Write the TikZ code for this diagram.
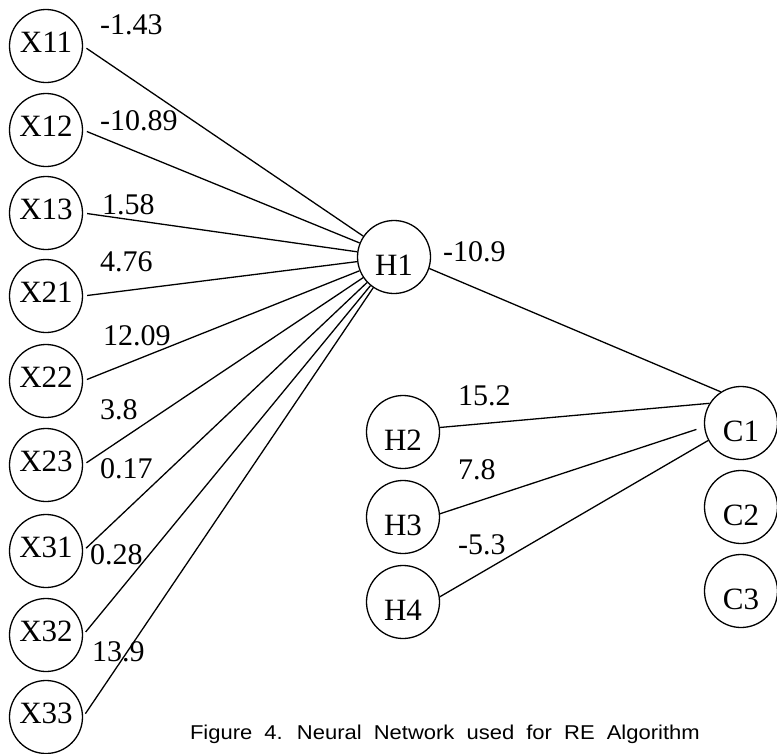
\documentclass[tikz,border=0pt]{standalone}
\usepackage{fontspec}
\setmainfont{Liberation Serif}
\newfontfamily\capfont{Liberation Sans}
\begin{document}
\begin{tikzpicture}[x=1pt,y=-1pt,
  unit/.style={circle,draw,line width=1.3pt,minimum size=73pt,inner sep=0pt,
    font=\fontsize{31}{31}\selectfont},
  xin/.style={unit,text height=12pt,text depth=0pt},
  hid/.style={unit,text height=37pt,text depth=0pt},
  wlab/.style={anchor=west,inner sep=0pt,font=\fontsize{30}{30}\selectfont},
  wire/.style={line width=1.3pt}]
\useasboundingbox (0,0) rectangle (777,753);

% input units
\node[xin] (X11) at (46,46)  {X11};
\node[xin] (X12) at (46,130) {X12};
\node[xin] (X13) at (46,213) {X13};
\node[xin] (X21) at (46,296) {X21};
\node[xin] (X22) at (46,381) {X22};
\node[xin] (X23) at (46,465) {X23};
\node[xin] (X31) at (46,551) {X31};
\node[xin] (X32) at (46,635) {X32};
\node[xin] (X33) at (46,717) {X33};

% hidden units
\node[hid] (H1) at (394,257) {H1};
\node[hid] (H2) at (403,432) {H2};
\node[hid] (H3) at (403,517) {H3};
\node[hid] (H4) at (403,602) {H4};

% output units
\node[hid] (C1) at (741,423) {C1};
\node[hid] (C2) at (741,507) {C2};
\node[hid] (C3) at (741,591) {C3};

% input-to-H1 weights
\foreach \n in {X11,X12,X13,X21,X22,X23,X31,X32,X33}
  \draw[wire,shorten <=4pt] (\n.east) -- (H1);

% hidden-to-C1 weights
\draw[wire] (H1.-18) -- (C1.123);
\draw[wire] (H2.7) -- (C1.148);
\draw[wire,shorten >=8pt] (H3.5) -- (C1.186);
\draw[wire] (H4.8) -- (C1.208);

% weight values
\node[wlab] (w11) at (100,25)  {-1.43};
\node[wlab] (w12) at (100,121) {-10.89};
\node[wlab] (w13) at (102,205) {1.58};
\node[wlab] (w21) at (100,262) {4.76};
\node[wlab] (w22) at (103,336) {12.09};
\node[wlab] (w23) at (100,410) {3.8};
\node[wlab] (w31) at (100,469) {0.17};
\node[wlab] (w32) at (90,555)  {0.28};
\node[wlab] (w33) at (92,652)  {13.9};
\node[wlab] (wh1) at (443,252) {-10.9};
\node[wlab] (wh2) at (458,396) {15.2};
\node[wlab] (wh3) at (458,470) {7.8};
\node[wlab] (wh4) at (458,545) {-5.3};

% caption
\node[anchor=base east,inner sep=0pt] (cap) at (700,739)
  {\capfont\fontsize{20}{20}\selectfont\spaceskip=11pt plus 1pt
   \scalebox{1.1}[1]{Figure 4. Neural Network used for RE Algorithm}};
\end{tikzpicture}
\end{document}
